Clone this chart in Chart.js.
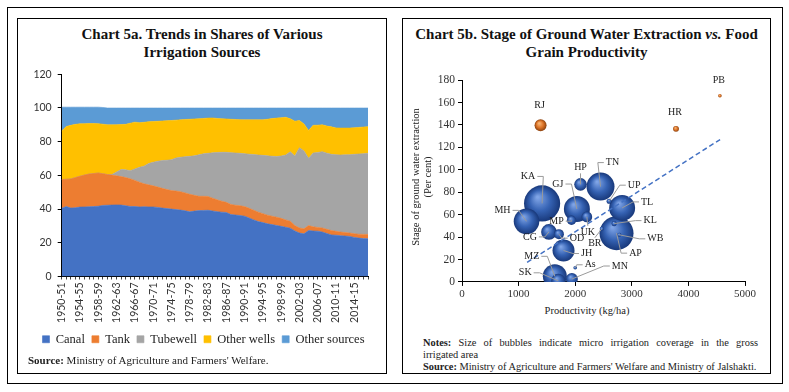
<!DOCTYPE html>
<html>
<head>
<meta charset="utf-8">
<script src="https://cdn.jsdelivr.net/npm/chart.js@4.4.1/dist/chart.umd.min.js"></script>
<style>
  body { margin: 0; background: #fff; width: 789px; height: 392px; position: relative; overflow: hidden;
         font-family: "Liberation Serif", serif; color: #222; }
  .box { position: absolute; border: 1px solid #000; box-sizing: border-box; }
  .title { position: absolute; text-align: center; font-weight: bold; font-size: 15px; line-height: 18px; color: #111; }
  .note { position: absolute; font-size: 10.5px; line-height: 12px; color: #222; }
  .cv { position: absolute; }
</style>
</head>
<body>
<div class="box" style="left:7px;top:7px;width:776px;height:377px;"></div>
<div class="box" style="left:17px;top:18px;width:370px;height:356px;"></div>
<div class="box" style="left:402px;top:18px;width:369px;height:356px;"></div>

<div class="title" style="left:17px;top:25px;width:370px;">Chart 5a. Trends in Shares of Various<br>Irrigation Sources</div>
<div class="title" style="left:402px;top:25px;width:369px;">Chart 5b. Stage of Ground Water Extraction <i>vs.</i> Food<br>Grain Productivity</div>

<div class="cv" style="left:17px;top:62px;"><canvas id="chartA" width="369" height="294"></canvas></div>
<div class="cv" style="left:402px;top:62px;"><canvas id="chartB" width="368" height="238"></canvas></div>

<div class="note" style="left:28px;top:354px;font-size:11px;"><b>Source:</b> Ministry of Agriculture and Farmers' Welfare.</div>

<div class="note" style="left:322px;top:165px;width:200px;text-align:center;transform:rotate(-90deg);">Stage of ground water extraction<br>(Per cent)</div>
<div class="note" style="left:487px;top:305px;width:200px;text-align:center;">Productivity (kg/ha)</div>

<div class="note" style="left:423px;top:337px;width:335px;text-align:justify;text-align-last:justify;font-size:10.4px;"><b>Notes:</b> Size of bubbles indicate micro irrigation coverage in the gross</div>
<div class="note" style="left:423px;top:349px;font-size:10.4px;">irrigated area</div>
<div class="note" style="left:423px;top:361px;font-size:10.4px;white-space:nowrap;"><b>Source:</b> Ministry of Agriculture and Farmers' Welfare and Ministry of Jalshakti.</div>

<script>
// ---- CHART 5a DATA (per cent share of net irrigated area) ----
const anos = ["1950-51","1951-52","1952-53","1953-54","1954-55","1955-56","1956-57","1957-58","1958-59","1959-60",
  "1960-61","1961-62","1962-63","1963-64","1964-65","1965-66","1966-67","1967-68","1968-69","1969-70",
  "1970-71","1971-72","1972-73","1973-74","1974-75","1975-76","1976-77","1977-78","1978-79","1979-80",
  "1980-81","1981-82","1982-83","1983-84","1984-85","1985-86","1986-87","1987-88","1988-89","1989-90",
  "1990-91","1991-92","1992-93","1993-94","1994-95","1995-96","1996-97","1997-98","1998-99","1999-00",
  "2000-01","2001-02","2002-03","2003-04","2004-05","2005-06","2006-07","2007-08","2008-09","2009-10",
  "2010-11","2011-12","2012-13","2013-14","2014-15","2015-16","2016-17","2017-18"];

const canal = [40.5,41.5,40.6,40.8,41.2,41.3,41.4,41.5,41.7,42.2,
  42.3,42.4,42.5,42.4,42,41.6,41.5,41.3,41.4,41.3,
  41.3,41,40.6,40.3,40,39.7,39.4,39,38.4,38.8,
  39.1,39.2,39.3,38.9,38.5,38.2,38,36.8,36.5,36.2,
  35.8,34.7,33.6,32.6,32,31.3,30.8,30.3,29.8,29.2,
  28.7,27,25.8,25.3,27.3,27,26.9,26.4,25.5,24.7,
  24.5,24.2,24,23.8,23.2,22.8,22.5,22.4];
const tank = [17,16.2,17.3,17.9,18.3,18.9,19.4,19.6,19.7,18.8,
  18.2,17.8,17.3,16.9,16.7,16.4,15.5,14.7,13.6,13.1,
  12.5,12.1,11.7,11.3,11,11,10.9,10.6,10.4,9.4,
  8.5,8.4,8.2,7.6,7,6.5,6,6,5.8,5.8,
  5.7,5.8,5.7,5.6,5.3,5.1,5,4.9,4.7,4.4,
  4.1,3.2,3,3,2.9,2.5,2.2,2.4,2.5,2.6,
  2.3,2.2,2.1,2,2.2,2.3,2.5,2.6];
const tubewell = [0,0,0,0,0,0,0,0,0,0,
  0,0.3,2.2,4.2,4.6,4.8,6.8,8.8,10.5,12.6,
  14,15.3,16.5,17.4,18.3,19.6,20.5,21.5,22.5,23.4,
  24.6,25.2,25.6,26.9,28.1,29,29.7,30.7,31,31.1,
  31.4,32.1,33.1,33.9,34.6,35.2,35.6,36,37,38.5,
  41.2,41.3,47.6,46.2,40,43.8,44.5,45.3,45.2,45.2,
  45.5,45.7,46.1,46.5,47.1,47.6,47.9,48.1];
const outrosPocos = [28.9,31.3,31.8,31.6,31.1,30.5,30,29.7,29.3,29.4,
  29.5,29.5,28.1,26.7,27,28.2,27.8,26.5,26,24.9,
  24.2,23.7,23.5,23.5,23.3,22.5,22.2,22.1,22,21.9,
  21.4,21,20.9,20.7,20.2,19.9,19.8,19.8,19.9,20,
  20.1,20.4,20.6,20.9,21.1,21.7,22.3,22.8,22.7,22.4,
  19.6,20.7,16.2,16,16.5,16.4,16.2,15.9,16.1,16.3,
  15.9,16,15.9,15.8,15.8,15.8,15.8,15.8];
const outrasFontes = [14.1,11.5,10.8,10.2,9.9,9.8,9.7,9.7,9.8,9.9,
  10,10,9.9,9.8,9.7,9,8.4,8.7,8.5,8.1,
  8,7.9,7.7,7.5,7.4,7.2,7,6.8,6.7,6.5,
  6.4,6.2,6,5.9,6.2,6.4,6.5,6.7,6.8,6.9,
  7,7,7,7,7,6.7,6.3,6,5.8,5.5,
  6.4,7.8,7.4,9.5,13.3,10.3,10.2,10,10.7,11.2,
  11.8,11.9,11.9,11.9,11.7,11.5,11.3,11.1];

// ---- CHART 5b DATA ----
const estados = ["KA","MH","HP","TN","GJ","MP","UK","UP","TL","KL","AP","WB","BR","CG","OD","JH","MZ","SK","MN","As"];
const produtividade = [1415,1140,2094,2447,2030,1935,2206,2600,2829,2688,2730,2780,2470,1536,1712,1794,1640,1700,1941,2000];
const extracao = [70,54,87,85,65,55,58,72,66,52,43.5,42,47.4,44.6,42.6,28,5,1,2.6,12.6];
const microIrrig = [30,15,3.6,18,15.5,2,2.6,0.6,15.5,0.6,26.5,0.4,0.4,5.6,2.3,11.1,13.2,4.5,3.3,0.3];

const estadosCriticos = ["RJ","HR","PB"];
const produtividadeCrit = [1388,3781,4557];
const extracaoCrit = [139.7,136.5,166];
const microIrrigCrit = [3.3,0.8,0.3];

const tendX = [1150,4560];
const tendY = [17.4,127];

// label placement (px offset from bubble centre, leader line on/off)
const posRotulos = {
  KA:[-14,-27,1], MH:[-24,-11,1], HP:[0,-17,1], TN:[12,-24,1], GJ:[-19,-25,1], UP:[25,-16,1],
  TL:[25,-6,1], KL:[36,-3,1], WB:[36,4,1], AP:[19,20,1], BR:[-7,15,1], UK:[1,15,1], MP:[-15,1,1],
  CG:[-19,5,1], OD:[18,4,1], JH:[23,3,1], MZ:[-23,-20,1], SK:[-33,-8,1], MN:[48,-13,1], As:[15,-3,1],
  RJ:[-1,-20,0], HR:[-1,-16,0], PB:[-1,-15,0]
};

const ESCALA_BOLHA = 3.3;
const tickFontA = { family: "Lato", size: 10.5 };
const serif = "Liberation Serif";

// ---- CHART 5a ----
function serie(label, data, cor, fill) {
  return { label, data, backgroundColor: cor, borderColor: cor, borderWidth: 0.6,
           pointRadius: 0, pointHoverRadius: 0, fill, tension: 0 };
}

const moveLegenda = {
  id: 'moveLegenda',
  afterLayout(chart) { chart.legend.left += 11; chart.legend.right += 11; }
};

new Chart(document.getElementById("chartA"), {
  type: "line",
  data: {
    labels: anos,
    datasets: [
      serie("Canal", canal, "#4472C4", "origin"),
      serie("Tank", tank, "#ED7D31", "-1"),
      serie("Tubewell", tubewell, "#A5A5A5", "-1"),
      serie("Other wells", outrosPocos, "#FFC000", "-1"),
      serie("Other sources", outrasFontes, "#5B9BD5", "-1")
    ]
  },
  options: {
    responsive: false,
    animation: false,
    events: [],
    layout: { padding: { top: 9, right: 18, bottom: 0.5, left: 0 } },
    scales: {
      x: {
        offset: false,
        ticks: { autoSkip: false, minRotation: 90, maxRotation: 90, padding: 3, color: "#333", font: tickFontA,
                 callback: (v, i) => i % 4 === 0 ? anos[i] : "" },
        grid: { drawOnChartArea: false, drawTicks: true, tickLength: 3, color: "#444" },
        border: { color: "#000" },
        afterFit: s => { s.height = 49.5; }
      },
      y: {
        stacked: true, min: 0, max: 120,
        ticks: { stepSize: 20, padding: 6, color: "#333", font: tickFontA },
        grid: { drawOnChartArea: false, drawTicks: true, tickLength: 4, color: "#000" },
        border: { color: "#000" },
        afterFit: s => { s.width = 44.7; }
      }
    },
    plugins: {
      tooltip: { enabled: false },
      legend: {
        position: "bottom",
        labels: { boxWidth: 7, boxHeight: 7, padding: 7, color: "#222", font: { family: serif, size: 12.5 } }
      }
    }
  },
  plugins: [moveLegenda]
});

// ---- CHART 5b ----
function corBolha(base, claro, escuro) {
  return function (ctx) {
    const raw = ctx.raw;
    const chart = ctx.chart;
    if (!raw || !chart.scales.x || !chart.scales.y) return base;
    const x = chart.scales.x.getPixelForValue(raw.x);
    const y = chart.scales.y.getPixelForValue(raw.y);
    const r = Math.max(raw.r, 1);
    if (!isFinite(x) || !isFinite(y)) return base;
    const g = chart.ctx.createRadialGradient(x - r * 0.25, y - r * 0.35, r * 0.05, x, y, r);
    g.addColorStop(0, claro);
    g.addColorStop(0.55, base);
    g.addColorStop(1, escuro);
    return g;
  };
}

function montarBolhas(nomes, xs, ys, tamanhos) {
  const idx = nomes.map((n, i) => i).sort((a, b) => tamanhos[b] - tamanhos[a]);
  return {
    names: idx.map(i => nomes[i]),
    data: idx.map(i => ({ x: xs[i], y: ys[i], r: ESCALA_BOLHA * Math.sqrt(tamanhos[i]) }))
  };
}

const azuis = montarBolhas(estados, produtividade, extracao, microIrrig);
const laranjas = montarBolhas(estadosCriticos, produtividadeCrit, extracaoCrit, microIrrigCrit);

const rotulosBolhas = {
  id: 'rotulosBolhas',
  afterDatasetsDraw(chart) {
    const c = chart.ctx;
    c.save();
    c.font = '10px "Liberation Serif"';
    c.textAlign = "center";
    c.textBaseline = "middle";
    chart.data.datasets.forEach((ds, di) => {
      if (!ds.names) return;
      chart.getDatasetMeta(di).data.forEach((el, i) => {
        const nome = ds.names[i];
        const off = posRotulos[nome];
        const lx = el.x + off[0], ly = el.y + off[1];
        const w = c.measureText(nome).width;
        if (off[2]) {
          c.strokeStyle = "#9a9a9a";
          c.lineWidth = 1;
          c.beginPath();
          if (Math.abs(off[0]) > 8) {
            const s = off[0] < 0 ? 1 : -1;
            const sx = lx + s * (w / 2 + 2);
            c.moveTo(sx, ly);
            c.lineTo(sx + s * 6, ly);
          } else {
            c.moveTo(lx, ly + (off[1] < 0 ? 6 : -6));
          }
          c.lineTo(el.x, el.y);
          c.stroke();
        }
        c.fillStyle = "#222";
        c.fillText(nome, lx, ly);
      });
    });
    c.restore();
  }
};

new Chart(document.getElementById("chartB"), {
  type: "bubble",
  data: {
    datasets: [
      {
        type: "line",
        label: "Trend",
        data: tendX.map((x, i) => ({ x: x, y: tendY[i] })),
        borderColor: "#4472C4", borderWidth: 1.5, borderDash: [5, 3],
        pointRadius: 0, fill: false, order: 0
      },
      {
        label: "Safe / semi-critical",
        names: azuis.names,
        data: azuis.data,
        backgroundColor: corBolha("#3562b3", "#7fa4e6", "#18387a"),
        borderWidth: 0, order: 1
      },
      {
        label: "Over-exploited",
        names: laranjas.names,
        data: laranjas.data,
        backgroundColor: corBolha("#dd7428", "#f8b878", "#8c420f"),
        borderWidth: 0, order: 1
      }
    ]
  },
  options: {
    responsive: false,
    animation: false,
    events: [],
    layout: { padding: { top: 10, right: 25, bottom: 0, left: 0 } },
    scales: {
      x: {
        type: "linear", min: 0, max: 5000,
        ticks: { stepSize: 1000, padding: 2, color: "#333", font: { family: serif, size: 11 },
                 callback: v => String(v) },
        grid: { drawOnChartArea: false, drawTicks: true, tickLength: 4, color: "#000" },
        border: { color: "#000" },
        afterFit: s => { s.height = 18; }
      },
      y: {
        min: 0, max: 180,
        ticks: { stepSize: 20, padding: 3, color: "#333", font: { family: serif, size: 11.5 } },
        grid: { drawOnChartArea: false, drawTicks: true, tickLength: 4, color: "#000" },
        border: { color: "#000" },
        afterFit: s => { s.width = 60; }
      }
    },
    plugins: {
      tooltip: { enabled: false },
      legend: { display: false }
    }
  },
  plugins: [rotulosBolhas]
});
</script>
</body>
</html>
